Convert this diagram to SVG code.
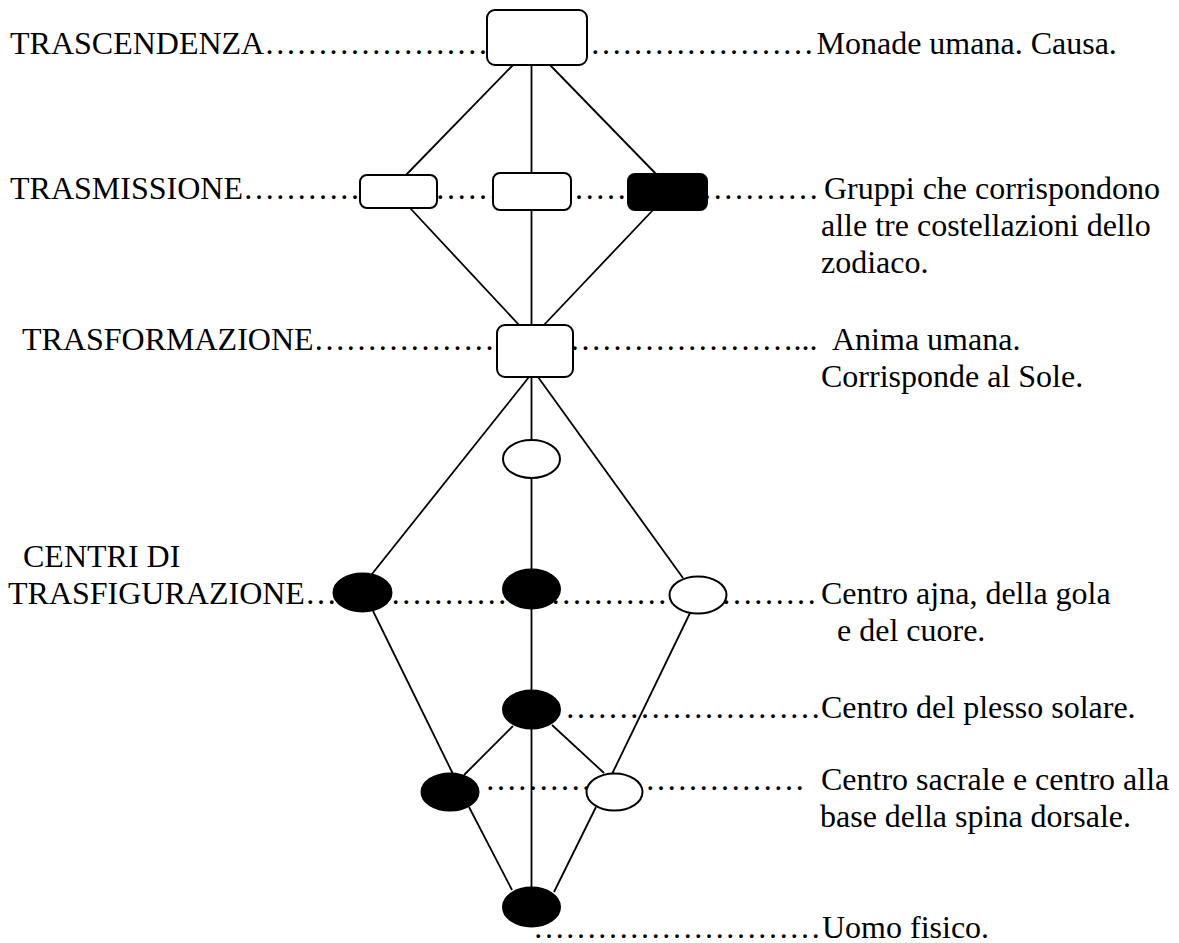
<svg xmlns="http://www.w3.org/2000/svg" width="1179" height="943" viewBox="0 0 1179 943">
<style>
  .t { font-family: 'Liberation Serif', 'Times New Roman', serif; font-size: 32px; fill: #000; }
  .ln { stroke: #000; stroke-width: 1.8; fill: none; }
  .w { fill: #fff; stroke: #000; stroke-width: 2; }
  .b { fill: #000; stroke: #000; stroke-width: 2; }
</style>
<g id="labels" class="t">
  <text x="10" y="54">TRASCENDENZA&#8230;&#8230;&#8230;&#8230;&#8230;&#8230;&#8230;</text>
  <text x="590" y="54">&#8230;&#8230;&#8230;&#8230;&#8230;&#8230;&#8230;<tspan x="816.5">Monade umana. Causa.</tspan></text>
  <text x="10" y="199">TRASMISSIONE&#8230;&#8230;&#8230;&#8230;&#8230;&#8230;&#8230;&#8230;&#8230;&#8230;&#8230;&#8230;&#8230;&#8230;&#8230;&#8230;&#8230;&#8230;<tspan x="824">Gruppi che corrispondono</tspan></text>
  <text x="821" y="236">alle tre costellazioni dello</text>
  <text x="821" y="273">zodiaco.</text>
  <text x="22" y="350">TRASFORMAZIONE&#8230;&#8230;&#8230;&#8230;&#8230;&#8230;&#8230;&#8230;&#8230;&#8230;&#8230;&#8230;&#8230;&#8230;&#8230;... <tspan x="832">Anima umana.</tspan></text>
  <text x="821" y="387">Corrisponde al Sole.</text>
  <text x="23" y="567">CENTRI DI</text>
  <text x="8" y="604">TRASFIGURAZIONE&#8230;&#8230;&#8230;&#8230;&#8230;&#8230;&#8230;&#8230;&#8230;&#8230;&#8230;&#8230;&#8230;&#8230;&#8230;&#8230;<tspan x="821">Centro ajna, della gola</tspan></text>
  <text x="837" y="641">e del cuore.</text>
  <text x="565" y="718">&#8230;&#8230;&#8230;&#8230;&#8230;&#8230;&#8230;&#8230;<tspan x="821">Centro del plesso solare.</tspan></text>
  <text x="485" y="790">&#8230;&#8230;&#8230;&#8230;&#8230;&#8230;&#8230;&#8230;&#8230;&#8230; <tspan x="821">Centro sacrale e centro alla</tspan></text>
  <text x="820" y="827">base della spina dorsale.</text>
  <text x="533" y="938">&#8230;&#8230;&#8230;&#8230;&#8230;&#8230;&#8230;&#8230;&#8230;<tspan x="822">Uomo fisico.</tspan></text>
</g>
<g id="connectors">
  <path class="ln" d="M531.5,65 V907"/>
  <path class="ln" d="M513,65 L405,176"/>
  <path class="ln" d="M410,208 L520,326"/>
  <path class="ln" d="M550,65 L657,175"/>
  <path class="ln" d="M653,210 L543,326"/>
  <path class="ln" d="M529,377 L372,574"/>
  <path class="ln" d="M373,611 L453,774"/>
  <path class="ln" d="M538,377 L683,578"/>
  <path class="ln" d="M690,613 L612,774"/>
  <path class="ln" d="M513,726 L464,775"/>
  <path class="ln" d="M552,725 L604,773"/>
  <path class="ln" d="M469,807 L512,890"/>
  <path class="ln" d="M596,807 L554,892"/>
</g>
<g id="node-trascendenza"><rect class="w" x="487" y="10" width="100" height="55" rx="8"/></g>
<g id="node-trasmissione-1"><rect class="w" x="360" y="175" width="77" height="33" rx="7"/></g>
<g id="node-trasmissione-2"><rect class="w" x="493" y="173" width="78" height="37" rx="7"/></g>
<g id="node-trasmissione-3"><rect class="b" x="628" y="174" width="79" height="36" rx="7"/></g>
<g id="node-trasformazione"><rect class="w" x="497" y="325" width="76" height="52" rx="8"/></g>
<g id="node-small"><ellipse class="w" cx="531.5" cy="459" rx="28.5" ry="19"/></g>
<g id="node-ajna"><ellipse class="b" cx="362.5" cy="592.5" rx="29" ry="19"/></g>
<g id="node-gola"><ellipse class="b" cx="531.5" cy="589" rx="28.5" ry="19.5"/></g>
<g id="node-cuore"><ellipse class="w" cx="698" cy="595" rx="28.5" ry="18.5"/></g>
<g id="node-plesso"><ellipse class="b" cx="531.5" cy="709.5" rx="28.5" ry="19"/></g>
<g id="node-sacrale"><ellipse class="b" cx="450" cy="792" rx="28.5" ry="18.5"/></g>
<g id="node-base"><ellipse class="w" cx="614.5" cy="792" rx="28" ry="18.5"/></g>
<g id="node-fisico"><ellipse class="b" cx="531.5" cy="907" rx="28.5" ry="19.5"/></g>
</svg>
